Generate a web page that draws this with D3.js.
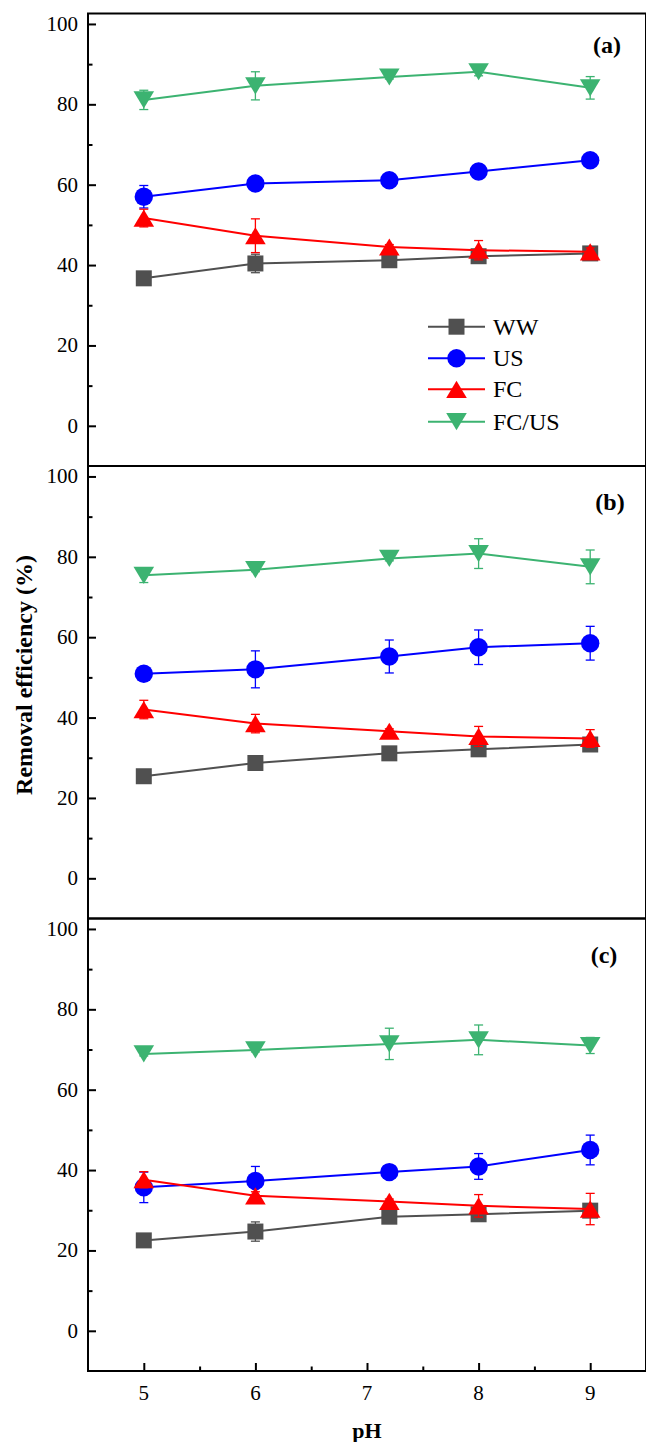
<!DOCTYPE html>
<html>
<head>
<meta charset="utf-8">
<script src="https://cdn.jsdelivr.net/npm/d3@7/dist/d3.min.js"></script>
<style>
  html, body { margin: 0; padding: 0; background: #fff; }
  svg { display: block; }
  text { font-family: "Liberation Serif", "Times New Roman", serif; fill: #000; }
</style>
</head>
<body>
<svg id="chart" width="646" height="1442"></svg>
<script>
// pH levels tested
const phValues = [5, 6, 7.2, 8, 9];
const xTickValues = [5, 6, 7, 8, 9];
const yTickValues = [0, 20, 40, 60, 80, 100];
const seriesNames = ["WW", "US", "FC", "FC/US"];
const panelLabels = ["(a)", "(b)", "(c)"];

// Panel (a): removal efficiency (%) and standard deviation
const aWW   = [36.7, 40.4, 41.2, 42.2, 42.9];
const aWWErr   = [0.5, 2.3, 0.6, 1.0, 0.8];
const aUS   = [57.0, 60.3, 61.1, 63.3, 66.1];
const aUSErr   = [2.8, 0.5, 0.5, 0.6, 0.6];
const aFC   = [51.7, 47.3, 44.5, 43.7, 43.3];
const aFCErr   = [2.2, 4.2, 0.6, 2.4, 1.0];
const aFCUS = [81.1, 84.6, 86.8, 88.1, 84.1];
const aFCUSErr = [2.4, 3.5, 0.5, 1.0, 2.8];

// Panel (b)
const bWW   = [25.4, 28.7, 31.1, 32.1, 33.3];
const bWWErr   = [0.5, 0.5, 0.5, 0.6, 1.0];
const bUS   = [50.9, 52.0, 55.2, 57.5, 58.5];
const bUSErr   = [0.6, 4.6, 4.1, 4.3, 4.2];
const bFC   = [42.0, 38.5, 36.6, 35.3, 34.8];
const bFCErr   = [2.3, 2.3, 0.6, 2.5, 2.2];
const bFCUS = [75.4, 76.8, 79.6, 80.8, 77.5];
const bFCUSErr = [1.8, 0.5, 0.6, 3.7, 4.2];

// Panel (c)
const cWW   = [22.5, 24.7, 28.4, 29.0, 29.9];
const cWWErr   = [0.5, 2.4, 0.6, 1.0, 0.6];
const cUS   = [35.7, 37.3, 39.5, 40.9, 45.0];
const cUSErr   = [3.8, 3.6, 0.6, 3.2, 3.7];
const cFC   = [37.6, 33.6, 32.2, 31.1, 30.3];
const cFCErr   = [2.0, 1.0, 0.6, 2.8, 3.9];
const cFCUS = [68.9, 69.9, 71.4, 72.4, 71.0];
const cFCUSErr = [0.5, 0.5, 3.9, 3.7, 2.0];

const panels = [
  { values: [aWW, aUS, aFC, aFCUS], errors: [aWWErr, aUSErr, aFCErr, aFCUSErr] },
  { values: [bWW, bUS, bFC, bFCUS], errors: [bWWErr, bUSErr, bFCErr, bFCUSErr] },
  { values: [cWW, cUS, cFC, cFCUS], errors: [cWWErr, cUSErr, cFCErr, cFCUSErr] }
];

// ---- layout & style ----
const colors = ["#505050", "#0000ff", "#ff0000", "#3cb371"];
const symbols = [d3.symbolSquare, d3.symbolCircle, d3.symbolTriangle, "down"];
const left = 88, right = 646;
const panelTops = [13.5, 466, 918.5];
const panelBottom = 1371;
const panelHeight = 452.5;
const labelPos = [[607, 45], [610, 502], [604, 955]];

const svg = d3.select("#chart");

const x = d3.scaleLinear().domain([4.5, 9.5]).range([left, right]);

function markerPath(kind) {
  if (kind === "down") {
    // inverted triangle
    return "M-10.3,-8.6L10.3,-8.6L0,8.6Z";
  }
  if (kind === d3.symbolTriangle) return "M0,-8.6L10.3,8.6L-10.3,8.6Z";
  if (kind === d3.symbolSquare) return "M-8,-8L8,-8L8,8L-8,8Z";
  return d3.symbol().type(d3.symbolCircle).size(Math.PI * 9.2 * 9.2)();
}

panels.forEach((panel, pi) => {
  const top = panelTops[pi];
  const bottom = top + panelHeight;
  const y = d3.scaleLinear().domain([-10, 102.6]).range([bottom, top]);
  const g = svg.append("g");

  // y axis: major ticks with labels, minor ticks between them, pointing inward
  const yAxis = d3.axisRight(y).tickValues(yTickValues).tickSize(8).tickFormat("");
  g.append("g").attr("transform", `translate(${left},0)`).call(yAxis)
    .call(s => s.select(".domain").remove())
    .call(s => s.selectAll("line").attr("stroke", "#000").attr("stroke-width", 2));
  const yMinor = d3.axisRight(y).tickValues([10, 30, 50, 70, 90]).tickSize(4.5).tickFormat("");
  g.append("g").attr("transform", `translate(${left},0)`).call(yMinor)
    .call(s => s.select(".domain").remove())
    .call(s => s.selectAll("line").attr("stroke", "#000").attr("stroke-width", 2));
  g.selectAll(".ylab").data(yTickValues).join("text")
    .attr("x", left - 10).attr("y", d => y(d))
    .attr("text-anchor", "end").attr("dominant-baseline", "central")
    .style("font-size", "21px").text(d => d);

  // data: line, error bars, markers for each series
  const line = d3.line().x((d, i) => x(phValues[i])).y(d => y(d));
  panel.values.forEach((vals, si) => {
    const col = colors[si];
    const errs = panel.errors[si];
    const sg = g.append("g");
    sg.append("path").datum(vals).attr("d", line)
      .attr("fill", "none").attr("stroke", col).attr("stroke-width", 2);
    const eb = sg.selectAll(".eb").data(vals).join("g")
      .attr("stroke", col).attr("stroke-width", 1.3);
    eb.append("line")
      .attr("x1", (d, i) => x(phValues[i])).attr("x2", (d, i) => x(phValues[i]))
      .attr("y1", (d, i) => y(d + errs[i])).attr("y2", (d, i) => y(d - errs[i]));
    eb.append("line")
      .attr("x1", (d, i) => x(phValues[i]) - 4.5).attr("x2", (d, i) => x(phValues[i]) + 4.5)
      .attr("y1", (d, i) => y(d + errs[i])).attr("y2", (d, i) => y(d + errs[i]));
    eb.append("line")
      .attr("x1", (d, i) => x(phValues[i]) - 4.5).attr("x2", (d, i) => x(phValues[i]) + 4.5)
      .attr("y1", (d, i) => y(d - errs[i])).attr("y2", (d, i) => y(d - errs[i]));
    sg.selectAll(".mk").data(vals).join("path")
      .attr("d", markerPath(symbols[si]))
      .attr("transform", (d, i) => `translate(${x(phValues[i])},${y(d)})`)
      .attr("fill", col);
  });

  // panel label
  g.append("text").attr("x", labelPos[pi][0]).attr("y", labelPos[pi][1])
    .attr("text-anchor", "middle").attr("dominant-baseline", "central")
    .style("font-size", "24px").style("font-weight", "bold")
    .text(panelLabels[pi]);

  // frame
  g.append("rect").attr("x", left).attr("y", top)
    .attr("width", right - left).attr("height", panelHeight)
    .attr("fill", "none").attr("stroke", "#000").attr("stroke-width", 2);
});

// bottom x axis with inward ticks
const xAxis = d3.axisTop(x).tickValues(xTickValues).tickSize(8).tickFormat("");
svg.append("g").attr("transform", `translate(0,${panelBottom})`).call(xAxis)
  .call(s => s.select(".domain").remove())
  .call(s => s.selectAll("line").attr("stroke", "#000").attr("stroke-width", 2));
const xMinor = d3.axisTop(x).tickValues([5.5, 6.5, 7.5, 8.5]).tickSize(4.5).tickFormat("");
svg.append("g").attr("transform", `translate(0,${panelBottom})`).call(xMinor)
  .call(s => s.select(".domain").remove())
  .call(s => s.selectAll("line").attr("stroke", "#000").attr("stroke-width", 2));
svg.selectAll(".xlab").data(xTickValues).join("text")
  .attr("x", d => x(d)).attr("y", panelBottom + 22)
  .attr("text-anchor", "middle").attr("dominant-baseline", "central")
  .style("font-size", "21px").text(d => d);

// axis titles
svg.append("text").attr("x", (left + right) / 2).attr("y", 1430)
  .attr("text-anchor", "middle").attr("dominant-baseline", "central")
  .style("font-size", "22px").style("font-weight", "bold").text("pH");
svg.append("text")
  .attr("transform", "translate(24,675) rotate(-90)")
  .attr("text-anchor", "middle").attr("dominant-baseline", "central")
  .style("font-size", "24px").style("font-weight", "bold")
  .text("Removal efficiency (%)");

// legend in panel (a)
const legendRows = [326.7, 358.3, 389.3, 421.7];
const lg = svg.append("g");
seriesNames.forEach((name, si) => {
  const ly = legendRows[si];
  lg.append("line").attr("x1", 428).attr("x2", 485).attr("y1", ly).attr("y2", ly)
    .attr("stroke", colors[si]).attr("stroke-width", 2);
  lg.append("path").attr("d", markerPath(symbols[si]))
    .attr("transform", `translate(456.5,${ly})`).attr("fill", colors[si]);
  lg.append("text").attr("x", 493).attr("y", ly)
    .attr("dominant-baseline", "central").style("font-size", "24px").text(name);
});
</script>
</body>
</html>
